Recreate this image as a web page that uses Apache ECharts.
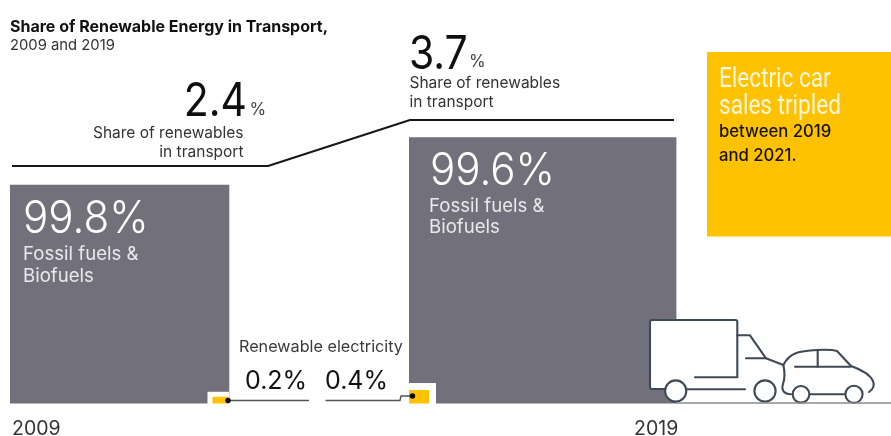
<!DOCTYPE html>
<html>
<head>
<meta charset="utf-8">
<style>html,body{margin:0;padding:0;background:#fff}#chart{width:891px;height:436px}</style>
<script src="https://cdn.jsdelivr.net/npm/echarts@6/dist/echarts.min.js"></script>
</head>
<body>
<div id="chart"></div>
<script>
// Transport energy, 2009 and 2019
const years = ['2009', '2019'];
const totalEnergy = [219.3, 267.4];         // relative size of the sector
const fossilShare = [99.8, 99.6];           // % fossil fuels & biofuels
const electricityShare = [0.2, 0.4];        // % renewable electricity
const renewableShare = [2.4, 3.7];          // % renewables in transport

const GRAY = '#72717b', YELLOW = '#fec200', BODY = 'Inter, Roboto, sans-serif', ICON = '#3f4a55';

// Left edge of each square on the shared 0-891 x scale, plus the span of its step in the line
const squareLeft = [10, 409];
const stepSpans = [[12, 268], [410, 674]];
const chipWidth = [16.5, 20];
const chipHalo = [5, 7];

const stepLine = [];
renewableShare.forEach((v, i) => stepSpans[i].forEach(x => stepLine.push([x, v])));

// Outline strokes and wheels of the truck and car
const truckBox = 'M695 377.3 L737.3 377.3 L737.3 322 Q737.3 320 735.3 320 L652 320 Q650 320 650 322 L650 387 Q650 389 652 389 L665 389';
const iconStrokes = [
  'M686 389.3 L745 389.3',
  'M737.3 335.3 L750 335.3 L766 358.3 L783.3 365',
  'M746 358.3 L766 358.3',
  'M783.3 365 C790 352 800 351 817 350 C825 349.5 832 349.5 837 351 L851 366 C862 370 870 374 873 381 C875 386 872 390 869 392',
  'M783.3 365 C785 372 785 378 783 384 C781 390 784 394 791 394.3',
  'M810 394.3 L846 394.3',
  'M795 366.7 L850.7 366.7',
  'M817.7 350 L817.7 366.7'
];
const iconWheels = [[675.7, 391, 10.6], [765, 391, 10.6], [801, 394.3, 8.3], [854, 394.3, 8.6]];

const text = (left, top, str, size, fill, extra) => Object.assign({
  type: 'text', x: left, y: top, z: 20,
  style: Object.assign({ text: str, font: `${(extra && extra.weight) || 400} ${size}px ${BODY}`, fill, textVerticalAlign: 'top' }, extra && extra.style)
}, extra && extra.el);

const rightText = (right, top, str, size, fill, el) => text(right, top, str, size, fill, { style: { textAlign: 'right' }, el });

const leader = (points) => ({
  type: 'polyline', z: 15, shape: { points }, style: { stroke: '#555', lineWidth: 1.4, fill: null }
});
const dot = (cx, cy) => ({ type: 'circle', z: 16, shape: { cx, cy, r: 2.7 }, style: { fill: '#0b0b0b' } });

const chart = echarts.init(document.getElementById('chart'), null, { renderer: 'canvas' });
chart.setOption({
  animation: false,
  backgroundColor: '#fff',
  grid: { left: 0, right: 0, top: 0, bottom: 32.5 },
  xAxis: { type: 'value', min: 0, max: 891, show: false },
  yAxis: [
    { type: 'value', min: 0, max: 403.5, show: false },
    { type: 'value', min: -4.312, max: 7.091, show: false },
    { type: 'value', min: 0, max: 12, show: false }
  ],
  series: [
    {
      name: 'Fossil fuels & Biofuels', type: 'custom', yAxisIndex: 0, z: 2,
      data: years.map((y, i) => [i, totalEnergy[i], totalEnergy[i] * fossilShare[i] / 100]),
      encode: { x: 0, y: 2 },
      renderItem(params, api) {
        const i = api.value(0);
        const p0 = api.coord([squareLeft[i], 0]);
        const p1 = api.coord([squareLeft[i] + api.value(1), api.value(2)]);
        return { type: 'rect', shape: { x: p0[0], y: p1[1], width: p1[0] - p0[0], height: p0[1] - p1[1] }, style: { fill: GRAY } };
      }
    },
    {
      name: 'Renewable electricity', type: 'custom', yAxisIndex: 2, z: 3,
      data: years.map((y, i) => [i, electricityShare[i]]),
      encode: { x: 0, y: 1 },
      renderItem(params, api) {
        const i = api.value(0);
        const base = api.coord([0, 0])[1];
        const top = api.coord([0, api.value(1)])[1];
        const h = base - top;
        // chip sits in the inner bottom corner of its square, with a white margin around it
        const x = i === 0 ? squareLeft[0] + totalEnergy[0] - chipWidth[0] - 0.3 : squareLeft[1];
        const w = chipWidth[i], m = chipHalo[i];
        const hx = i === 0 ? x - m : x;
        return {
          type: 'group',
          children: [
            { type: 'rect', shape: { x: hx, y: top - m, width: w + m, height: h + m + 1 }, style: { fill: '#fff' } },
            { type: 'rect', shape: { x, y: top, width: w, height: h }, style: { fill: YELLOW } }
          ]
        };
      }
    },
    {
      name: 'Share of renewables in transport', type: 'line', yAxisIndex: 1, z: 4,
      data: stepLine, symbol: 'none', silent: true,
      lineStyle: { color: '#18181a', width: 2 }
    },
    {
      name: 'Vehicles', type: 'custom', yAxisIndex: 0, z: 5, silent: true,
      data: [[0, 0]],
      renderItem() {
        const strokeStyle = { fill: null, stroke: ICON, lineWidth: 2.1, lineJoin: 'round', lineCap: 'round' };
        return {
          type: 'group',
          children: [
            // white body of the truck sits over the square behind it
            { type: 'rect', shape: { x: 650, y: 320, width: 87.3, height: 69 }, style: { fill: '#fff' } },
            { type: 'path', shape: { pathData: truckBox }, style: strokeStyle }
          ].concat(iconStrokes.map(pathData => ({ type: 'path', shape: { pathData }, style: strokeStyle })))
            .concat(iconWheels.map(([cx, cy, r]) => ({
              type: 'circle', shape: { cx, cy, r }, style: { fill: '#fff', stroke: ICON, lineWidth: 2.1 }
            })))
        };
      }
    }
  ],
  graphic: [
    text(10, 19, 'Share of Renewable Energy in Transport,', 16, '#111', { weight: 700 }),
    text(10, 38.5, '2009 and 2019', 14.8, '#333'),

    // first step annotation
    rightText(247, 79, String(renewableShare[0]), 46, '#0f0f10', { scaleX: 0.89 }),
    text(249.5, 101, '%', 17, '#444'),
    rightText(243.5, 125, 'Share of renewables', 15.5, '#333'),
    rightText(243.5, 144, 'in transport', 15.5, '#333'),

    // second step annotation
    text(409, 32, String(renewableShare[1]), 46, '#0f0f10', { el: { scaleX: 0.89 } }),
    text(469, 53, '%', 17, '#444'),
    text(409.5, 75.5, 'Share of renewables', 15.5, '#333'),
    text(409.5, 94.5, 'in transport', 15.5, '#333'),

    // labels inside the squares
    text(23, 197, fossilShare[0] + '%', 44.5, '#fff', { weight: 300, el: { scaleX: 0.945 } }),
    text(23, 245, 'Fossil fuels &', 18.6, '#e9e9ec'),
    text(23, 267, 'Biofuels', 18.6, '#e9e9ec'),
    text(430, 149, fossilShare[1] + '%', 44.5, '#fff', { weight: 300, el: { scaleX: 0.945 } }),
    text(429, 197, 'Fossil fuels &', 18.6, '#e9e9ec'),
    text(429, 218, 'Biofuels', 18.6, '#e9e9ec'),

    // callout
    { type: 'rect', z: 5, shape: { x: 707, y: 52, width: 184, height: 184.5 }, style: { fill: YELLOW } },
    text(719, 66, 'Electric car', 27.5, '#fff6dc', { el: { scaleX: 0.82 }, style: { font: '400 27.5px Roboto, sans-serif' } }),
    text(719, 93, 'sales tripled', 27.5, '#fff6dc', { el: { scaleX: 0.82 }, style: { font: '400 27.5px Roboto, sans-serif' } }),
    text(719, 123.5, 'between 2019', 16.7, '#15120a', { weight: 500 }),
    text(719, 147, 'and 2021.', 16.7, '#15120a', { weight: 500 }),

    // renewable electricity leaders
    text(239, 339, 'Renewable electricity', 16.2, '#3a3a3c'),
    text(245, 369, electricityShare[0] + '%', 25, '#111'),
    text(325, 369, electricityShare[1] + '%', 25, '#111'),
    leader([[228, 400.5], [309, 400.5]]),
    leader([[325.5, 400.5], [400, 400.5], [401, 396], [412, 396]]),
    dot(228, 400.5),
    dot(412.5, 396),

    // year labels
    text(12, 419, years[0], 19.5, '#333'),
    text(634, 419, years[1], 19.5, '#333'),

    // ground line under the vehicles
    { type: 'line', z: 15, shape: { x1: 676, y1: 403, x2: 891, y2: 403 }, style: { stroke: '#8b8b8b', lineWidth: 1.6 } }
  ]
});
</script>
</body>
</html>
